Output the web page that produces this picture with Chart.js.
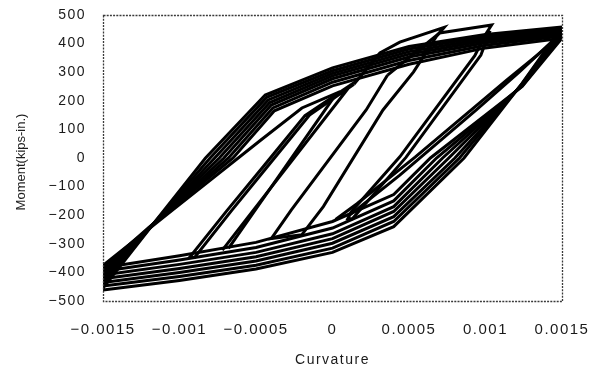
<!DOCTYPE html>
<html>
<head>
<meta charset="utf-8">
<script src="https://cdn.jsdelivr.net/npm/chart.js@4.4.1/dist/chart.umd.min.js"></script>
<style>
  html, body { margin: 0; padding: 0; background: #fff; }
</style>
</head>
<body>
<canvas id="chart" width="600" height="372"></canvas>
<script>
const xTicks = [-0.0015, -0.001, -0.0005, 0, 0.0005, 0.001, 0.0015];
const yTicks = [-500, -400, -300, -200, -100, 0, 100, 200, 300, 400, 500];

// full cycles to +/-0.0015 : [curvature, moment]
const cycle1 = [[-0.0015,-455],[-0.0012,-250],[-0.00083,0],[-0.00044,220],[0,315],[0.0005,390],[0.001,432],[0.0015,458],[0.00124,262],[0.00086,0],[0.0004,-240],[0,-330],[-0.0005,-388],[-0.001,-428],[-0.0015,-462]];
const cycle2 = [[-0.0015,-443],[-0.0012,-248],[-0.0008,0],[-0.00043,212],[0,305],[0.0005,381],[0.001,425],[0.0015,452],[0.00124,260],[0.00083,0],[0.0004,-222],[0,-315],[-0.0005,-375],[-0.001,-414],[-0.0015,-448]];
const cycle3 = [[-0.0015,-431],[-0.0012,-247],[-0.00077,0],[-0.00042,203],[0,296],[0.0005,372],[0.001,418],[0.0015,447],[0.00124,258],[0.0008,0],[0.0004,-205],[0,-298],[-0.0005,-360],[-0.001,-400],[-0.0015,-435]];
const cycle4 = [[-0.0015,-420],[-0.0012,-246],[-0.00074,0],[-0.00041,194],[0,287],[0.0005,363],[0.001,411],[0.0015,441],[0.00124,256],[0.00076,0],[0.0004,-187],[0,-282],[-0.0005,-345],[-0.001,-386],[-0.0015,-422]];
const cycle5 = [[-0.0015,-408],[-0.0012,-245],[-0.00071,0],[-0.0004,185],[0,277],[0.0005,353],[0.001,403],[0.0015,434],[0.00124,254],[0.00072,0],[0.0004,-170],[0,-265],[-0.0005,-330],[-0.001,-372],[-0.0015,-409]];
const cycle6 = [[-0.0015,-396],[-0.0012,-244],[-0.00068,0],[-0.00039,175],[0,265],[0.0005,341],[0.001,394],[0.0015,427],[0.00124,252],[0.00068,0],[0.0004,-150],[0,-245],[-0.0005,-313],[-0.001,-357],[-0.0015,-396]];
const cycle7 = [[-0.0015,-384],[-0.0012,-243],[-0.00065,0],[-0.00038,165],[0,252],[0.0005,328],[0.001,385],[0.0015,419],[0.00124,250],[0.00064,0],[0.0004,-128],[0,-222],[-0.0005,-295],[-0.001,-342],[-0.0015,-384]];

// smaller excursions
const loopA = [[-0.0015,-376],[-0.00105,-184],[-0.00047,62],[-0.0002,175],[0.00005,232],[0.00002,221],[-0.00068,-316]];
const loopB = [[-0.00072,-322],[0.00008,228],[0.00012,256],[-0.00018,148],[-0.00044,-22],[-0.00069,-184],[-0.00093,-345],[-0.0009,-347],[-0.00066,-184],[-0.00041,-20],[-0.00015,150],[0.00014,258]];
const loopC = [[0.00014,258],[0.00031,367],[0.00044,405],[0.00073,457],[0.00068,426],[0.00053,301],[0.00033,168],[-0.00006,-170],[-0.0002,-268],[-0.0004,-282],[-0.00027,-182],[0.00022,168],[0.00036,290]];
const loopD = [[0.00036,290],[0.0007,437],[0.00104,465],[0.001,432],[0.00093,358],[0.00044,4],[0.00012,-190],[0.0001,-212],[0.00013,-212],[0.00048,2],[0.00097,360],[0.00103,445]];
const loopE = [[0.00002,-215],[0.00016,-160],[0.00054,3],[0.00114,273],[0.0015,430]];
const loopF = [[0.0001,-205],[0.00044,-60],[0.00094,168],[0.00122,300],[0.0015,440]];

const loops = [cycle1, cycle2, cycle3, cycle4, cycle5, cycle6, cycle7, loopA, loopB, loopC, loopD, loopE, loopF];

const FONT = "'Liberation Sans', Arial, sans-serif";
const minus = s => s.replace('-', '\u2212');

const frame = {
  id: 'frame',
  beforeDraw(chart) {
    chart.ctx.letterSpacing = '1.5px';
  },
  afterDatasetsDraw(chart) {
    const { ctx, chartArea: a } = chart;
    ctx.save();
    ctx.strokeStyle = '#3a3a3a';
    ctx.lineWidth = 1.3;
    ctx.setLineDash([2, 1.2]);
    ctx.strokeRect(a.left + 0.5, a.top + 0.5, a.right - a.left, a.bottom - a.top);
    ctx.restore();
  },
  afterDraw(chart) {
    const ctx = chart.ctx;
    ctx.save();
    ctx.letterSpacing = '0px';
    ctx.fillStyle = '#1e1e1e';
    ctx.font = '13px ' + FONT;
    ctx.translate(21, 162);
    ctx.rotate(-Math.PI / 2);
    ctx.textAlign = 'center';
    ctx.textBaseline = 'middle';
    ctx.fillText('Moment(kips-in.)', 0, 0);
    ctx.restore();
  }
};

new Chart(document.getElementById('chart'), {
  type: 'scatter',
  data: {
    datasets: loops.map(l => ({
      data: l.map(p => ({ x: p[0], y: p[1] })),
      showLine: true,
      borderColor: '#000',
      borderWidth: 3,
      pointRadius: 0,
      tension: 0
    }))
  },
  options: {
    responsive: false,
    animation: false,
    layout: { autoPadding: false, padding: { left: 0, top: 15, right: 38, bottom: 0 } },
    plugins: { legend: { display: false }, tooltip: { enabled: false } },
    scales: {
      x: {
        type: 'linear',
        min: -0.0015,
        max: 0.0015,
        afterFit: s => { s.height = 71; s.paddingLeft = 0; s.paddingRight = 0; },
        afterBuildTicks: s => { s.ticks = xTicks.map(v => ({ value: v })); },
        grid: { display: false, drawTicks: false },
        border: { display: false },
        ticks: {
          padding: 20,
          color: '#1a1a1a',
          font: { family: FONT, size: 15 },
          maxRotation: 0,
          callback: v => minus(String(+v.toFixed(4)))
        },
        title: {
          display: true,
          text: 'Curvature',
          color: '#1a1a1a',
          font: { family: FONT, size: 14 },
          padding: { top: 4, bottom: 3 }
        }
      },
      y: {
        min: -500,
        max: 500,
        // tick padding would otherwise be added above the plot
        afterFit: s => { s.width = 103; s.paddingTop = 0; s.paddingBottom = 0; },
        afterBuildTicks: s => { s.ticks = yTicks.map(v => ({ value: v })); },
        grid: { display: false, drawTicks: false },
        border: { display: false },
        ticks: {
          padding: 17,
          color: '#1a1a1a',
          font: { family: FONT, size: 14 },
          callback: v => minus(String(v))
        }
      }
    }
  },
  plugins: [frame]
});
</script>
</body>
</html>
